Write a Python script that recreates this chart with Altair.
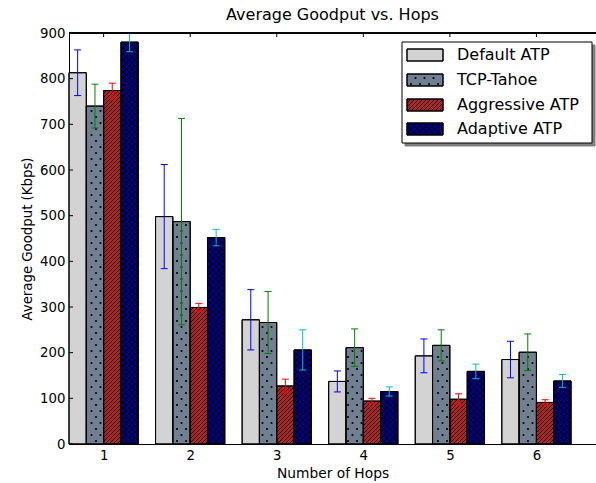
import math

import altair as alt
import pandas as pd

# ---- data -------------------------------------------------------------
hops = [1, 2, 3, 4, 5, 6]
series_names = ["Default ATP", "TCP-Tahoe", "Aggressive ATP", "Adaptive ATP"]

default_atp = [813, 498, 272, 137, 193, 185]
default_err = [50, 114, 66, 23, 37, 40]
tcp_tahoe = [740, 487, 266, 211, 216, 201]
tcp_err = [48, 226, 68, 41, 34, 40]
aggressive_atp = [774, 299, 127, 94, 98, 91]
aggressive_err = [16, 9, 15, 6, 12, 6]
adaptive_atp = [880, 452, 206, 115, 159, 138]
adaptive_err = [21, 18, 44, 10, 16, 14]

y_ticks = [0, 100, 200, 300, 400, 500, 600, 700, 800, 900]

# ---- style ------------------------------------------------------------
fill_colors = ["#d3d3d3", "#708090", "#b22222", "#000080"]
err_colors = ["#0000ff", "#008000", "#ff0000", "#00bfbf"]
FONT = "DejaVu Sans"

W, H = 527, 411
PAD = {"left": 69, "top": 33, "right": 0, "bottom": 39}
X_MIN = 0.6
PX_PER_HOP = 86.56
X_MAX = X_MIN + W / PX_PER_HOP
Y_MAX = 900
BAR_W = 0.2
px_x = W / (X_MAX - X_MIN)
px_y = H / Y_MAX
CAP_PX = 3.5
TICK_PX = 4

DOT_ROW, DOT_COL = 6.0, 9.0      # dotted hatch lattice (px)
SLASH_STEP = 4.0                  # '////' hatch spacing (px)
CROSS_STEP = 6.0                  # 'xxx' hatch spacing (px)

values = [default_atp, tcp_tahoe, aggressive_atp, adaptive_atp]
errors = [default_err, tcp_err, aggressive_err, adaptive_err]


def diag_segments(x0, x1, y0, y1, step, slope):
    """45-degree hatch lines clipped to the rectangle [x0,x1] x [y0,y1]."""
    w, h = x1 - x0, y1 - y0
    segs = []
    if slope > 0:
        c0 = (x0 - y0) % step
    else:
        c0 = (-(x1 + y0)) % step
    c = c0 + step * math.floor((-w - c0) / step)
    while c < h:
        t0, t1 = max(0.0, -c), min(w, h - c)
        if t1 - t0 > 0.3:
            if slope > 0:
                segs.append((x0 + t0, y0 + c + t0, x0 + t1, y0 + c + t1))
            else:
                segs.append((x1 - t0, y0 + c + t0, x1 - t1, y0 + c + t1))
        c += step
    return segs


def dot_lattice(x0, x1, y0, y1, margin=1.5):
    pts = []
    j = 0
    while True:
        y = (j + 0.5) * DOT_ROW
        if y > y1 - margin:
            break
        if y >= y0 + margin:
            shift = (j % 2) * DOT_COL / 2
            i = math.floor((x0 - shift) / DOT_COL)
            while True:
                x = i * DOT_COL + shift
                if x > x1 - margin:
                    break
                if x >= x0 + margin:
                    pts.append((x, y))
                i += 1
        j += 1
    return pts


# ---- tables -----------------------------------------------------------
bar_rows, cap_rows, dot_rows, hatch_rows = [], [], [], []
for k, name in enumerate(series_names):
    for i, h in enumerate(hops):
        v, e = values[k][i], errors[k][i]
        left = h - 2 * BAR_W + k * BAR_W
        center = left + BAR_W / 2
        bar_rows.append(dict(series=name, hop=h, left=left, right=left + BAR_W,
                             center=center, value=v, zero=0, lo=v - e, hi=v + e,
                             fill=fill_colors[k], ecolor=err_colors[k]))
        for yv in (v - e, v + e):
            cap_rows.append(dict(xl=center - CAP_PX / px_x, xr=center + CAP_PX / px_x,
                                 y=yv, ecolor=err_colors[k]))
        # pattern geometry in pixels (y pointing up), converted back to data
        bx0 = (left - X_MIN) * px_x
        bx1 = (left + BAR_W - X_MIN) * px_x
        top = v * px_y
        if k == 1:
            for (px, py) in dot_lattice(bx0, bx1, 0, top):
                dot_rows.append(dict(x=X_MIN + px / px_x, y=py / px_y))
        elif k in (2, 3):
            if k == 2:
                segs = diag_segments(bx0, bx1, 0, top, SLASH_STEP, 1)
            else:
                segs = diag_segments(bx0, bx1, 0, top, CROSS_STEP, 1) + \
                    diag_segments(bx0, bx1, 0, top, CROSS_STEP, -1)
            for (ax, ay, bx, by) in segs:
                hatch_rows.append(dict(x=X_MIN + ax / px_x, y=ay / px_y,
                                       x2=X_MIN + bx / px_x, y2=by / px_y))

bars = pd.DataFrame(bar_rows)
caps = pd.DataFrame(cap_rows)
dots = pd.DataFrame(dot_rows)
hatch = pd.DataFrame(hatch_rows)

xscale = alt.Scale(domain=[X_MIN, X_MAX], nice=False, zero=False)
yscale = alt.Scale(domain=[0, Y_MAX], nice=False, zero=True)

# one axis definition shared by every layer that uses the data scales
x_axis = alt.Axis(values=hops, format="d", title="Number of Hops",
                  ticks=False, grid=False, labelPadding=4, titlePadding=5,
                  domainColor="black", labelFontSize=13.3, titleFontSize=13.8)
y_axis = alt.Axis(values=y_ticks, format="d", title="Average Goodput (Kbps)",
                  ticks=False, grid=False, labelPadding=4, titlePadding=5,
                  domainColor="black", labelFontSize=13.3, titleFontSize=13.3)


def X(field):
    return alt.X(field, scale=xscale, axis=x_axis)


def Y(field):
    return alt.Y(field, scale=yscale, axis=y_axis)


bar_layer = alt.Chart(bars).mark_rect(stroke="black", strokeWidth=1).encode(
    x=X("left:Q"), x2="right:Q",
    y=Y("value:Q"), y2="zero:Q",
    fill=alt.Fill("fill:N", scale=None),
)

dot_layer = alt.Chart(dots).mark_circle(size=4.5, color="black", opacity=1).encode(
    x=X("x:Q"), y=Y("y:Q"),
)

hatch_layer = alt.Chart(hatch).mark_rule(color="black", strokeWidth=0.9).encode(
    x=X("x:Q"), x2="x2:Q",
    y=Y("y:Q"), y2="y2:Q",
)

outline_layer = alt.Chart(bars).mark_rect(fillOpacity=0, stroke="black", strokeWidth=1).encode(
    x=X("left:Q"), x2="right:Q",
    y=Y("value:Q"), y2="zero:Q",
)

err_layer = alt.Chart(bars).mark_rule(strokeWidth=1).encode(
    x=X("center:Q"),
    y=Y("lo:Q"), y2="hi:Q",
    stroke=alt.Stroke("ecolor:N", scale=None),
)

cap_layer = alt.Chart(caps).mark_rule(strokeWidth=1).encode(
    x=X("xl:Q"), x2="xr:Q",
    y=Y("y:Q"),
    stroke=alt.Stroke("ecolor:N", scale=None),
)

# inward tick marks on left, bottom and top, plus the top frame line
ytick_df = pd.DataFrame({"v": y_ticks})
xtick_df = pd.DataFrame({"h": hops})
left_ticks = alt.Chart(ytick_df).mark_rule(color="black", strokeWidth=1).encode(
    x=alt.value(0), x2=alt.value(TICK_PX),
    y=Y("v:Q"),
)
bottom_ticks = alt.Chart(xtick_df).mark_rule(color="black", strokeWidth=1).encode(
    x=X("h:Q"),
    y=alt.value(H), y2=alt.value(H - TICK_PX),
)
top_ticks = alt.Chart(xtick_df).mark_rule(color="black", strokeWidth=1).encode(
    x=X("h:Q"),
    y=alt.value(0), y2=alt.value(TICK_PX),
)
top_frame = alt.Chart(xtick_df).mark_rule(color="black", strokeWidth=1).encode(
    x=alt.value(0), x2=alt.value(W), y=alt.value(0),
)

# ---- legend (pixel coordinates inside the plot area) -------------------
LEG_X0, LEG_X1, LEG_Y0, LEG_Y1 = 333, 523, 9, 110
SHADOW = 3
SW_X0, SW_X1, SW_H = 338, 374, 12
ROW_Y = [22, 47, 72, 96]
TEXT_X = 388

leg_box = pd.DataFrame([
    dict(x0=LEG_X0 + SHADOW, x1=LEG_X1 + SHADOW, y0=LEG_Y0 + SHADOW, y1=LEG_Y1 + SHADOW,
         fill="#7f7f7f", stroke="#7f7f7f"),
    dict(x0=LEG_X0, x1=LEG_X1, y0=LEG_Y0, y1=LEG_Y1, fill="white", stroke="black"),
])
sw_rows, sw_dots, sw_hatch = [], [], []
for k, name in enumerate(series_names):
    y0, y1 = ROW_Y[k] - SW_H / 2, ROW_Y[k] + SW_H / 2
    sw_rows.append(dict(x0=SW_X0, x1=SW_X1, y0=y0, y1=y1, fill=fill_colors[k],
                        stroke="black", label=name, ty=ROW_Y[k], tx=TEXT_X))
    if k == 1:
        for (px, py) in dot_lattice(SW_X0, SW_X1, y0 - 0.5, y1 + 0.5):
            sw_dots.append(dict(x=px, y=py))
    elif k == 2:
        for s in diag_segments(SW_X0, SW_X1, y0, y1, SLASH_STEP, -1):
            sw_hatch.append(dict(x=s[0], y=s[1], x2=s[2], y2=s[3]))
    elif k == 3:
        for s in diag_segments(SW_X0, SW_X1, y0, y1, CROSS_STEP, -1) + \
                diag_segments(SW_X0, SW_X1, y0, y1, CROSS_STEP, 1):
            sw_hatch.append(dict(x=s[0], y=s[1], x2=s[2], y2=s[3]))
swatches = pd.DataFrame(sw_rows)

legend_box = alt.Chart(leg_box).mark_rect(strokeWidth=1).encode(
    x=alt.X("x0:Q", scale=None), x2="x1:Q",
    y=alt.Y("y0:Q", scale=None), y2="y1:Q",
    fill=alt.Fill("fill:N", scale=None),
    stroke=alt.Stroke("stroke:N", scale=None),
)
legend_swatch = alt.Chart(swatches).mark_rect(strokeWidth=1).encode(
    x=alt.X("x0:Q", scale=None), x2="x1:Q",
    y=alt.Y("y0:Q", scale=None), y2="y1:Q",
    fill=alt.Fill("fill:N", scale=None),
    stroke=alt.Stroke("stroke:N", scale=None),
)
legend_dots = alt.Chart(pd.DataFrame(sw_dots)).mark_circle(size=4.5, color="black", opacity=1).encode(
    x=alt.X("x:Q", scale=None), y=alt.Y("y:Q", scale=None),
)
legend_hatch = alt.Chart(pd.DataFrame(sw_hatch)).mark_rule(color="black", strokeWidth=0.9).encode(
    x=alt.X("x:Q", scale=None), x2="x2:Q",
    y=alt.Y("y:Q", scale=None), y2="y2:Q",
)
legend_outline = alt.Chart(swatches).mark_rect(fillOpacity=0, stroke="black", strokeWidth=1).encode(
    x=alt.X("x0:Q", scale=None), x2="x1:Q",
    y=alt.Y("y0:Q", scale=None), y2="y1:Q",
)
legend_text = alt.Chart(swatches).mark_text(
    align="left", baseline="middle", font=FONT, fontSize=16, color="black"
).encode(
    x=alt.X("tx:Q", scale=None), y=alt.Y("ty:Q", scale=None), text="label:N",
)

chart = alt.layer(
    bar_layer, dot_layer, hatch_layer, outline_layer, err_layer, cap_layer,
    left_ticks, bottom_ticks, top_ticks, top_frame,
    legend_box, legend_swatch, legend_dots, legend_hatch, legend_outline, legend_text,
).properties(
    width=W, height=H,
    padding=PAD,
    autosize=alt.AutoSizeParams(type="none"),
    title=alt.TitleParams("Average Goodput vs. Hops", font=FONT, fontSize=16,
                          fontWeight="normal", color="black", anchor="middle",
                          offset=3),
).configure_view(
    stroke=None,
).configure_axis(
    labelFont=FONT, titleFont=FONT, labelColor="black", titleColor="black",
    titleFontWeight="normal", domainWidth=1,
)

chart.save("out.html", embed_options={"renderer": "svg", "actions": False})
